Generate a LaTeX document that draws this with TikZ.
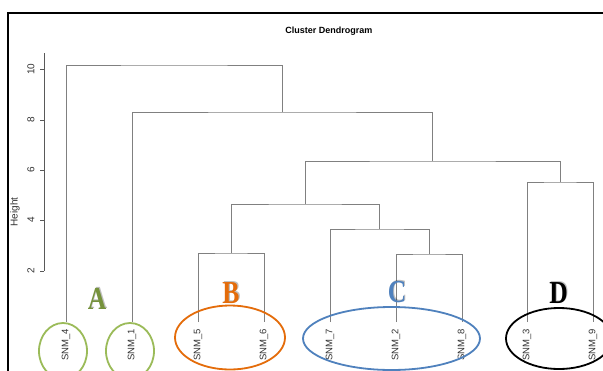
\documentclass[tikz,border=0pt]{standalone}
\usepackage{fontspec}
\setmainfont{Liberation Sans}
\newfontfamily\letterfont{Liberation Serif}
\usetikzlibrary{shapes.geometric}
\definecolor{agreen}{HTML}{9BBB59}
\definecolor{atext}{HTML}{76923C}
\definecolor{borange}{HTML}{E46C0A}
\definecolor{cblue}{HTML}{4F81BD}
\definecolor{treegray}{HTML}{808080}
\begin{document}
\begin{tikzpicture}[x=1pt,y=-1pt,
  tree/.style={draw=treegray,line width=0.8pt},
  axisline/.style={draw=black!65,line width=0.8pt},
  ticklab/.style={rotate=90,inner sep=0pt,font=\fontsize{10}{12}\selectfont,text=black!80},
  leaflab/.style={rotate=90,anchor=east,inner sep=0pt,font=\fontsize{9.5}{11}\selectfont,text=black!80},
  ell/.style={ellipse,line width=1.8pt,inner sep=0pt},
  bigletter/.style={inner sep=0pt,font=\letterfont\bfseries\fontsize{32}{32}\selectfont},
  shadowletter/.style={bigletter,text=black,opacity=0.25}
]
\useasboundingbox (0,0) rectangle (603,370);
\clip (0,0) rectangle (603,370);
\fill[white] (0,0) rectangle (603,370);

% frame
\draw[line width=2pt] (8,372) -- (8,13) -- (605,13);

% title
\node[font=\bfseries\fontsize{9}{11}\selectfont] (title) at (329,31) {Cluster Dendrogram};

% axis
\draw[axisline] (44,53) -- (44,271);
\foreach \yy/\lab in {69/10,120/8,170/6,220/4,271/2}{
  \draw[axisline] (40,\yy) -- (44,\yy);
  \node[ticklab] (tick\lab) at (31,\yy) {\lab};
}
\node[ticklab] (ylab) at (15,212) {Height};

% leaves
\coordinate (l4) at (66,322);
\coordinate (l1) at (132,322);
\coordinate (l5) at (198,322);
\coordinate (l6) at (264,322);
\coordinate (l7) at (330,322);
\coordinate (l2) at (396,322);
\coordinate (l8) at (462,322);
\coordinate (l3) at (527,322);
\coordinate (l9) at (593,322);

% merges
\coordinate (mB) at (231,253);
\coordinate (mC1) at (429,254);
\coordinate (mC) at (379.5,229);
\coordinate (mBC) at (305,204);
\coordinate (mD) at (560,182);
\coordinate (mBCD) at (432.5,161);
\coordinate (m1) at (282,112);
\coordinate (mtop) at (174,65);

\draw[tree] (l5) |- (mB) -| (l6);
\draw[tree] (l2) |- (mC1) -| (l8);
\draw[tree] (l7) |- (mC) -| (mC1);
\draw[tree] (mB) |- (mBC) -| (mC);
\draw[tree] (l3) |- (mD) -| (l9);
\draw[tree] (mBC) |- (mBCD) -| (mD);
\draw[tree] (l1) |- (m1) -| (mBCD);
\draw[tree] (l4) |- (mtop) -| (m1);

% leaf labels
\foreach \c/\t in {l4/SNM\_4,l1/SNM\_1,l5/SNM\_5,l6/SNM\_6,l7/SNM\_7,l2/SNM\_2,l8/SNM\_8,l3/SNM\_3,l9/SNM\_9}{
  \node[leaflab] (lab\c) at ([yshift=-7pt]\c) {\t};
}

% ellipses
\node[ell,draw=agreen,minimum width=48pt,minimum height=56pt] (eA1) at (63,351) {};
\node[ell,draw=agreen,minimum width=48pt,minimum height=56pt] (eA2) at (130,351) {};
\node[ell,draw=borange,minimum width=110pt,minimum height=64pt] (eB) at (230,337.5) {};
\node[ell,draw=cblue,minimum width=177pt,minimum height=63pt] (eC) at (391.5,338.5) {};
\node[ell,draw=black,minimum width=106pt,minimum height=61pt] (eD) at (559,338.5) {};

% cluster letters
\foreach \n/\px/\py/\col in {A/97/299/atext,B/231/293/borange,C/397/292/cblue,D/558.5/293/black}{
  \node[shadowletter] (sh\n) at (\px+1.2,\py-1.2) {\scalebox{0.8}[1]{\n}};
  \node[bigletter,text=\col] (let\n) at (\px,\py) {\scalebox{0.8}[1]{\n}};
}
\end{tikzpicture}
\end{document}
